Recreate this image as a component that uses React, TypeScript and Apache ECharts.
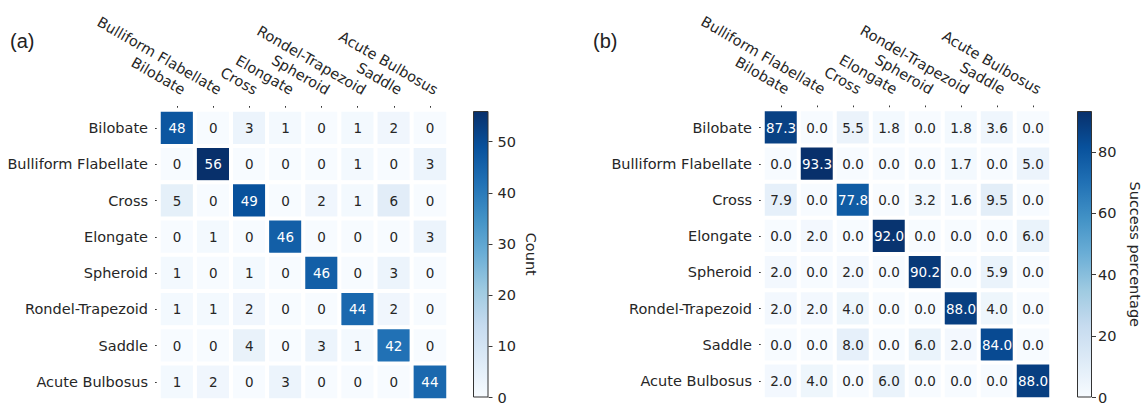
import React, { useEffect, useRef } from 'react';
import * as echarts from 'echarts';

const categories = [
  'Bilobate',
  'Bulliform Flabellate',
  'Cross',
  'Elongate',
  'Spheroid',
  'Rondel-Trapezoid',
  'Saddle',
  'Acute Bulbosus',
];

// rows = true class, columns = predicted class
const countRows = [
  [48, 0, 3, 1, 0, 1, 2, 0],
  [0, 56, 0, 0, 0, 1, 0, 3],
  [5, 0, 49, 0, 2, 1, 6, 0],
  [0, 1, 0, 46, 0, 0, 0, 3],
  [1, 0, 1, 0, 46, 0, 3, 0],
  [1, 1, 2, 0, 0, 44, 2, 0],
  [0, 0, 4, 0, 3, 1, 42, 0],
  [1, 2, 0, 3, 0, 0, 0, 44],
];

const percentRows = [
  [87.3, 0.0, 5.5, 1.8, 0.0, 1.8, 3.6, 0.0],
  [0.0, 93.3, 0.0, 0.0, 0.0, 1.7, 0.0, 5.0],
  [7.9, 0.0, 77.8, 0.0, 3.2, 1.6, 9.5, 0.0],
  [0.0, 2.0, 0.0, 92.0, 0.0, 0.0, 0.0, 6.0],
  [2.0, 0.0, 2.0, 0.0, 90.2, 0.0, 5.9, 0.0],
  [2.0, 2.0, 4.0, 0.0, 0.0, 88.0, 4.0, 0.0],
  [0.0, 0.0, 8.0, 0.0, 6.0, 2.0, 84.0, 0.0],
  [2.0, 4.0, 0.0, 6.0, 0.0, 0.0, 0.0, 88.0],
];

const countTicks = [0, 10, 20, 30, 40, 50];
const percentTicks = [0, 20, 40, 60, 80];
const panelLabels = ['(a)', '(b)'];
const colorbarNames = ['Count', 'Success percentage'];

const BLUES = ['#f7fbff', '#deebf7', '#c6dbef', '#9ecae1', '#6baed6', '#4292c6', '#2171b5', '#08519c', '#08306b'];
const FONT = 'DejaVu Sans';
const DARK = '#262626';
const TICK = '#3a3a3a';

function maxOf(rows: number[][]) {
  let m = 0;
  rows.forEach((r) => r.forEach((v) => { if (v > m) m = v; }));
  return m;
}

function cells(rows: number[][], max: number) {
  const out: any[] = [];
  rows.forEach((row, yi) =>
    row.forEach((v, xi) => {
      out.push({ value: [xi, yi, v], label: { color: v / max > 0.45 ? '#ffffff' : DARK } });
    })
  );
  return out;
}

export default function App() {
  const ref = useRef<HTMLDivElement>(null);

  useEffect(() => {
    if (!ref.current) return;
    const chart = echarts.init(ref.current, undefined, { renderer: 'svg' });
    const maxA = maxOf(countRows);
    const maxB = maxOf(percentRows);

    const gradient = () =>
      new echarts.graphic.LinearGradient(0, 1, 0, 0, BLUES.map((c, i) => ({ offset: i / (BLUES.length - 1), color: c })));

    const heatX = (gridIndex: number) => ({
      type: 'category',
      gridIndex,
      position: 'top',
      data: categories,
      axisLine: { show: false },
      axisTick: { show: true, length: 4, alignWithLabel: true, lineStyle: { color: TICK, width: 1 } },
      axisLabel: {
        interval: 0,
        rotate: 30,
        margin: 23,
        padding: [0, -8, 0, 0],
        fontSize: 14.5,
        fontFamily: FONT,
        color: DARK,
      },
      splitLine: { show: false },
    });
    const heatY = (gridIndex: number) => ({
      type: 'category',
      gridIndex,
      inverse: true,
      data: categories,
      axisLine: { show: false },
      axisTick: { show: true, length: 4, alignWithLabel: true, lineStyle: { color: TICK, width: 1 } },
      axisLabel: { interval: 0, margin: 11, fontSize: 14.5, fontFamily: FONT, color: DARK },
      splitLine: { show: false },
    });
    const cbX = (gridIndex: number) => ({
      type: 'category',
      gridIndex,
      data: ['cb'],
      show: false,
    });
    const cbY = (gridIndex: number, max: number, ticks: number[], name: string, margin: number) => ({
      type: 'value',
      gridIndex,
      position: 'right',
      min: 0,
      max,
      axisLine: { show: false },
      axisTick: { show: true, length: 4, customValues: ticks, lineStyle: { color: TICK } },
      axisLabel: { customValues: ticks, margin, fontSize: 14.5, fontFamily: FONT, color: DARK },
      splitLine: { show: false },
      name,
      nameLocation: 'middle',
      nameRotate: -90,
      nameGap: 35,
      nameTextStyle: { fontSize: 14.5, fontFamily: FONT, color: DARK },
    });

    const heatSeries = (idx: number, rows: number[][], max: number, digits: number) => ({
      type: 'heatmap',
      xAxisIndex: idx,
      yAxisIndex: idx,
      data: cells(rows, max),
      label: {
        show: true,
        fontSize: 13.5,
        fontFamily: FONT,
        formatter: (p: any) => Number(p.value[2]).toFixed(digits),
      },
      itemStyle: { borderColor: '#ffffff', borderWidth: 4 },
      emphasis: { disabled: true },
      silent: true,
    });
    const cbSeries = (idx: number, max: number) => ({
      type: 'bar',
      xAxisIndex: idx,
      yAxisIndex: idx,
      data: [max],
      barWidth: '100%',
      silent: true,
      itemStyle: { color: gradient(), borderColor: '#333333', borderWidth: 1 },
    });

    chart.setOption({
      animation: false,
      backgroundColor: '#ffffff',
      textStyle: { fontFamily: FONT },
      grid: [
        { left: 159, top: 110, width: 289, height: 290, containLabel: false },
        { left: 473, top: 111, width: 15.5, height: 290, containLabel: false },
        { left: 763, top: 109.5, width: 288, height: 289.5, containLabel: false },
        { left: 1077, top: 111, width: 16, height: 289, containLabel: false },
      ],
      xAxis: [heatX(0), cbX(1), heatX(2), cbX(3)],
      yAxis: [
        heatY(0),
        cbY(1, maxA, countTicks, colorbarNames[0], 9),
        heatY(2),
        cbY(3, maxB, percentTicks, colorbarNames[1], 6),
      ],
      visualMap: [
        { type: 'continuous', show: false, seriesIndex: 0, dimension: 2, min: 0, max: maxA, inRange: { color: BLUES } },
        { type: 'continuous', show: false, seriesIndex: 2, dimension: 2, min: 0, max: maxB, inRange: { color: BLUES } },
      ],
      series: [heatSeries(0, countRows, maxA, 0), cbSeries(1, maxA), heatSeries(2, percentRows, maxB, 1), cbSeries(3, maxB)],
      graphic: [
        {
          type: 'text',
          left: 10,
          top: 31,
          style: { text: panelLabels[0], fontSize: 20, fontFamily: 'Liberation Sans', fill: '#222222' },
        },
        {
          type: 'text',
          left: 593,
          top: 31,
          style: { text: panelLabels[1], fontSize: 20, fontFamily: 'Liberation Sans', fill: '#222222' },
        },
      ],
    });
    return () => chart.dispose();
  }, []);

  return (
    <div
      ref={ref}
      style={{ position: 'absolute', left: 0, top: 0, width: 1143, height: 405, background: '#ffffff' }}
    />
  );
}
